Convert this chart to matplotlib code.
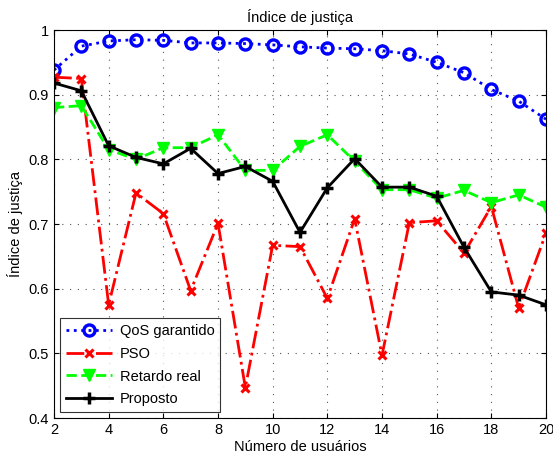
import numpy as np
import matplotlib
matplotlib.use('Agg')
import matplotlib.pyplot as plt

plt.rcParams['font.family'] = ['Liberation Sans', 'DejaVu Sans']

usuarios = list(range(2, 21))
qos = [0.938, 0.975, 0.983, 0.985, 0.984, 0.980, 0.980, 0.979, 0.977, 0.974,
       0.972, 0.971, 0.968, 0.963, 0.950, 0.934, 0.908, 0.890, 0.862]
pso = [0.927, 0.925, 0.575, 0.748, 0.716, 0.597, 0.701, 0.447, 0.667, 0.665,
       0.585, 0.708, 0.497, 0.702, 0.705, 0.655, 0.727, 0.570, 0.686]
retardo = [0.880, 0.883, 0.815, 0.800, 0.818, 0.818, 0.838, 0.783, 0.783, 0.820,
           0.838, 0.797, 0.753, 0.753, 0.740, 0.752, 0.733, 0.745, 0.726]
proposto = [0.918, 0.906, 0.821, 0.803, 0.793, 0.817, 0.778, 0.789, 0.766, 0.687,
            0.756, 0.801, 0.757, 0.757, 0.743, 0.664, 0.595, 0.590, 0.575]
xticks = [2, 4, 6, 8, 10, 12, 14, 16, 18, 20]
yticks = [0.4, 0.5, 0.6, 0.7, 0.8, 0.9, 1]

fig = plt.figure(figsize=(5.53, 4.61), dpi=100)
ax = fig.add_axes([54/553, 1-418/461, 492/553, 388/461])

ax.plot(usuarios, qos, color='blue', linestyle=':', linewidth=2, marker='o',
        markersize=8, markerfacecolor='none', markeredgewidth=2.4, label='QoS garantido')
ax.plot(usuarios, pso, color='red', linestyle='-.', linewidth=2, marker='x',
        markersize=6, markeredgewidth=2.2, label='PSO')
ax.plot(usuarios, retardo, color='#00ff00', linestyle='--', linewidth=2, marker='v',
        markersize=9, label='Retardo real')
ax.plot(usuarios, proposto, color='black', linestyle='-', linewidth=2, marker='+',
        markersize=9, markeredgewidth=2.5, label='Proposto')

ax.set_xlim(2, 20)
ax.set_ylim(0.4, 1)
ax.set_xticks(xticks)
ax.set_yticks(yticks)
ax.set_yticklabels(['0.4', '0.5', '0.6', '0.7', '0.8', '0.9', '1'])
ax.tick_params(direction='in', labelsize=10.5, top=True, right=True)
ax.grid(True, linestyle=(0, (1, 6)), color='#555555', linewidth=0.8)

ax.set_title(u'Índice de justiça', fontsize=10.5)
ax.set_xlabel(u'Número de usuários', fontsize=10.5, labelpad=2)
ax.set_ylabel(u'Índice de justiça', fontsize=10.5)

leg = ax.legend(loc='lower left', fontsize=10.5, fancybox=False, edgecolor='black',
                handlelength=3.2, borderaxespad=0.4, labelspacing=0.6,
                handletextpad=0.5, borderpad=0.4)
leg.get_frame().set_linewidth(0.8)

fig.savefig('out.png', dpi=100)
